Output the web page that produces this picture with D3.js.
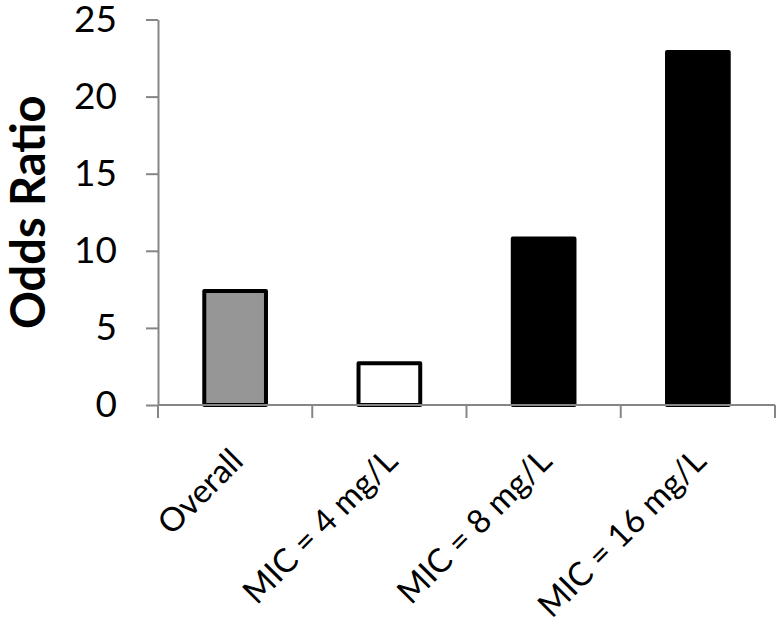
<!DOCTYPE html>
<html>
<head>
<meta charset="utf-8">
<script src="https://cdn.jsdelivr.net/npm/d3@7"></script>
<style>
  html, body { margin: 0; padding: 0; background: #fff; }
  svg { display: block; }
</style>
</head>
<body>
<svg id="chart" width="780" height="627"></svg>
<script>
const categories = ["Overall", "MIC = 4 mg/L", "MIC = 8 mg/L", "MIC = 16 mg/L"];
const oddsRatios = [7.4, 2.7, 10.8, 22.9];
const barFills = ["#969696", "#ffffff", "#000000", "#000000"];
const yTicks = [0, 5, 10, 15, 20, 25];
const yTitle = "Odds Ratio";

const svg = d3.select("#chart");
const mLeft = 158, mRight = 775, mTop = 19.5, mBottom = 405;
const axisColor = "#868686";
const font = "Lato, 'Open Sans', sans-serif";

const x = d3.scaleBand().domain(categories).range([mLeft, mRight]).paddingInner(0.6).paddingOuter(0.3);
const y = d3.scaleLinear().domain([0, 25]).range([mBottom, mTop]);

// y axis
const yAxis = svg.append("g").attr("transform", `translate(${mLeft},0)`)
  .call(d3.axisLeft(y).tickValues(yTicks).tickSize(12).tickPadding(29).tickSizeOuter(0));
yAxis.select(".domain").attr("stroke", axisColor).attr("stroke-width", 2);
yAxis.selectAll(".tick line").attr("stroke", axisColor).attr("stroke-width", 2);
yAxis.selectAll(".tick text").attr("fill", "#000").style("font-family", font)
  .style("font-size", "37px");

// bars
svg.append("g").selectAll("rect").data(categories).join("rect")
  .attr("x", d => x(d))
  .attr("y", (d, i) => y(oddsRatios[i]))
  .attr("width", x.bandwidth())
  .attr("height", (d, i) => y(0) - y(oddsRatios[i]))
  .attr("fill", (d, i) => barFills[i])
  .attr("stroke", "#000")
  .attr("stroke-width", 4)
  .attr("stroke-linejoin", "round");

// x axis
const step = x.step();
const boundaries = d3.range(categories.length + 1).map(k => mLeft + k * step);
const xg = svg.append("g");
xg.append("line").attr("x1", mLeft).attr("x2", mRight).attr("y1", mBottom).attr("y2", mBottom)
  .attr("stroke", axisColor).attr("stroke-width", 2);
xg.selectAll("line.tk").data(boundaries).join("line").attr("class", "tk")
  .attr("x1", d => d).attr("x2", d => d).attr("y1", mBottom).attr("y2", mBottom + 13)
  .attr("stroke", axisColor).attr("stroke-width", 2);

xg.selectAll("text").data(categories).join("text")
  .attr("transform", d => `translate(${x(d) + x.bandwidth() / 2 + 10},${mBottom + 58}) rotate(-45)`)
  .attr("text-anchor", "end")
  .style("font-family", font)
  .style("font-size", "33px")
  .attr("fill", "#000")
  .text(d => d);

// y title
svg.append("text")
  .attr("transform", `translate(45,${(mTop + mBottom) / 2}) rotate(-90)`)
  .attr("text-anchor", "middle")
  .style("font-family", font)
  .style("font-size", "47px")
  .style("font-weight", "bold")
  .attr("fill", "#000")
  .text(yTitle);
</script>
</body>
</html>
